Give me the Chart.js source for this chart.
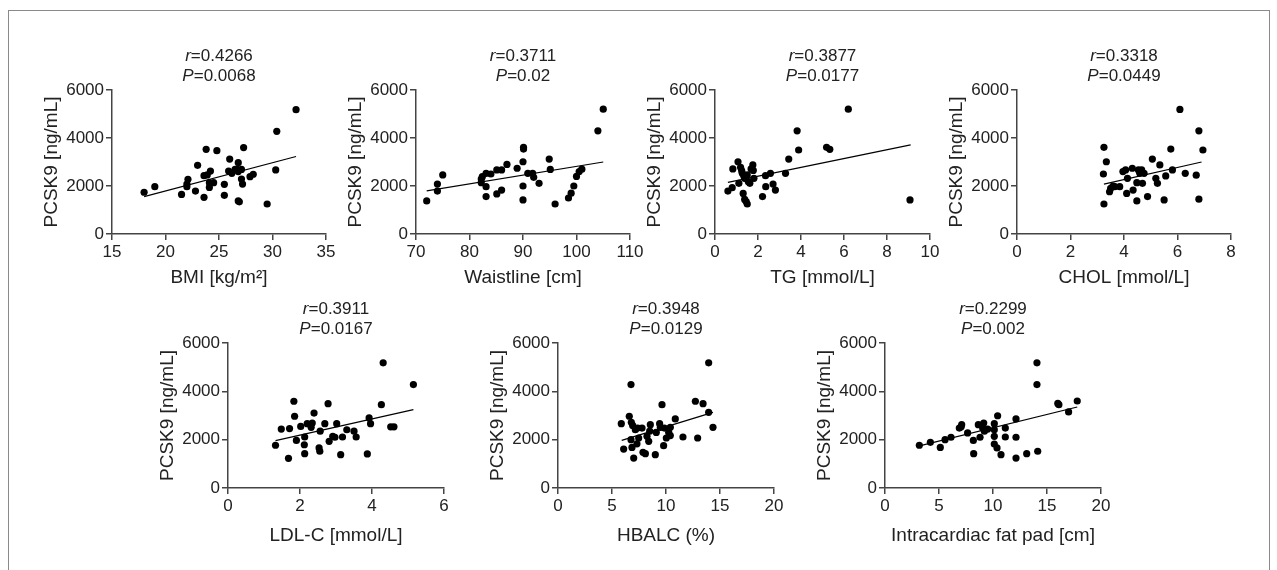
<!DOCTYPE html>
<html>
<head>
<meta charset="utf-8">
<title>PCSK9 correlations</title>
<script src="https://cdn.jsdelivr.net/npm/chart.js@4/dist/chart.umd.min.js"></script>
<style>
    body {
        margin: 0;
        background: #fff;
        font-family: "Liberation Sans", Arial, sans-serif;
    }
    #figure {
        position: relative;
        width: 1277px;
        height: 570px;
        overflow: hidden;
    }
    #frame {
        position: absolute;
        left: 8px;
        top: 10px;
        width: 1260px;
        height: 580px;
        border: 1px solid #8a8a8a;
    }
    #figure canvas {
        position: absolute;
    }
</style>
</head>
<body>
<div id="figure"><div id="frame"></div></div>
<script>
// data: [x, PCSK9 ng/mL]
const bmiPoints = [
    [18.0, 1740], [19.0, 1970], [21.5, 1650], [22.1, 2280], [22.0, 1970], [22.0, 2080],
    [22.8, 1790], [23.0, 2860], [23.6, 1530], [23.8, 3530], [23.6, 2430], [23.9, 2460],
    [24.2, 2620], [24.1, 1940], [24.1, 2140], [24.5, 2140], [24.8, 3470], [25.5, 1610],
    [25.5, 2070], [26.0, 3120], [25.9, 2620], [26.2, 2530], [26.5, 2690], [26.8, 2970],
    [26.7, 2690], [27.1, 2690], [26.8, 2600], [27.1, 2290], [27.2, 2080], [27.3, 3600],
    [26.8, 1380], [26.9, 1340], [27.9, 2390], [28.2, 2490], [29.5, 1250], [30.3, 2670],
    [30.4, 4280], [32.2, 5180]
];
const bmiFit = [[18.0, 1560], [32.2, 3230]];

const waistPoints = [
    [72, 1380], [74, 2080], [74, 1790], [75, 2460], [82.2, 2290], [82.4, 2390],
    [82.2, 2140], [83.1, 1970], [83.1, 1560], [83.1, 2530], [84, 2500], [85.1, 2670],
    [85.1, 1670], [86, 2670], [86, 1830], [87, 2900], [88.9, 2740], [90, 3010],
    [90.1, 3540], [90.1, 3610], [90, 2000], [90, 1420], [90.9, 2530], [91.8, 2530],
    [92, 2360], [93, 2110], [94.9, 3120], [95.1, 2690], [96, 1250], [98.5, 1500],
    [99, 1700], [99.5, 2000], [100, 2400], [100.5, 2600], [101, 2700], [104, 4300],
    [105, 5200]
];
const waistFit = [[72, 1800], [105, 3000]];

const tgPoints = [
    [0.60, 1790], [0.80, 1930], [0.83, 2710], [1.07, 3010], [1.11, 2110], [1.19, 2780],
    [1.24, 2640], [1.27, 2530], [1.34, 2420], [1.31, 1690], [1.38, 1440], [1.45, 1350],
    [1.50, 1250], [1.38, 2320], [1.50, 2460], [1.55, 2180], [1.62, 2110], [1.68, 2710],
    [1.76, 2880], [1.78, 2650], [1.81, 2320], [2.21, 1560], [2.35, 2430], [2.36, 1970],
    [2.58, 2530], [2.70, 2080], [2.81, 1830], [3.28, 2530], [3.43, 3120], [3.82, 4300],
    [3.89, 3500], [5.19, 3610], [5.34, 3530], [6.2, 5200], [9.07, 1420]
];
const tgFit = [[0.6, 2150], [9.1, 3710]];

const cholPoints = [
    [3.25, 3610], [3.34, 3010], [3.23, 2500], [3.25, 1250], [3.46, 1760], [3.50, 1900],
    [3.59, 2000], [3.66, 1970], [3.84, 1970], [3.96, 2600], [4.06, 2670], [4.13, 2320],
    [4.10, 1690], [4.31, 2740], [4.34, 1830], [4.48, 2140], [4.48, 1380], [4.54, 2670],
    [4.59, 2530], [4.66, 2670], [4.69, 2110], [4.75, 2530], [4.88, 1560], [5.06, 3120],
    [5.19, 2320], [5.25, 2110], [5.34, 2880], [5.50, 1420], [5.56, 2420], [5.75, 3540],
    [5.81, 2670], [6.09, 5190], [6.29, 2530], [6.7, 2450], [6.8, 4300], [6.95, 3500],
    [6.8, 1450]
];
const cholFit = [[3.25, 2080], [6.9, 3000]];

const ldlPoints = [
    [1.32, 1770], [1.48, 2440], [1.68, 1230], [1.71, 2460], [1.83, 3590], [1.85, 2970],
    [1.90, 1970], [2.02, 2550], [2.13, 2110], [2.12, 1790], [2.13, 1420], [2.20, 2660],
    [2.31, 2510], [2.34, 2690], [2.39, 3100], [2.53, 1660], [2.55, 1520], [2.56, 2350],
    [2.69, 2660], [2.78, 3490], [2.81, 1930], [2.91, 2140], [2.97, 2100], [3.02, 2660],
    [3.13, 1380], [3.18, 2110], [3.30, 2410], [3.50, 2350], [3.56, 2110], [3.87, 1410],
    [3.92, 2900], [3.96, 2660], [4.26, 3450], [4.31, 5180], [4.52, 2530], [4.61, 2530],
    [5.15, 4280]
];
const ldlFit = [[1.32, 1960], [5.15, 3240]];

const hbalcPoints = [
    [5.86, 2660], [6.08, 1610], [6.60, 2970], [6.76, 4280], [6.79, 2720], [6.91, 2590],
    [6.76, 2000], [6.85, 1680], [7.01, 1240], [7.16, 2410], [7.38, 2480], [7.31, 1830],
    [7.47, 2070], [7.78, 2480], [7.87, 1480], [8.09, 1420], [8.24, 2140], [8.40, 1930],
    [8.49, 2350], [8.55, 2620], [9.01, 1380], [9.10, 2300], [9.41, 2660], [9.48, 2510],
    [9.63, 3450], [9.78, 1750], [9.85, 2480], [10.03, 2070], [10.25, 2300], [10.40, 2170],
    [10.40, 2510], [10.86, 2860], [11.57, 2110], [12.72, 3590], [12.93, 2070], [13.43, 3490],
    [13.95, 5180], [13.95, 3130], [14.35, 2510]
];
const hbalcFit = [[5.9, 1970], [14.35, 3130]];

const fatPadPoints = [
    [3.18, 1770], [4.20, 1890], [5.12, 1680], [5.56, 2000], [6.11, 2100], [6.88, 2480],
    [7.10, 2620], [7.05, 2530], [7.65, 2280], [8.18, 1970], [8.21, 1420], [8.64, 2620],
    [8.80, 2100], [9.04, 2480], [9.14, 2690], [9.20, 2350], [9.51, 2440], [10.12, 2660],
    [10.12, 2410], [10.12, 2140], [10.12, 1820], [10.43, 2990], [10.37, 1660], [10.74, 1380],
    [11.14, 2480], [11.14, 2110], [12.13, 2860], [12.13, 2100], [12.13, 1240], [13.12, 1420],
    [14.07, 5180], [14.07, 4280], [14.14, 1520], [16.0, 3500], [16.1, 3450], [17.0, 3150],
    [17.8, 3600]
];
const fatPadFit = [[3.0, 1720], [17.8, 3350]];

const yTicks = [0, 2000, 4000, 6000];
const yTitle = 'PCSK9 [ng/mL]';

const panels = [
    { points: bmiPoints, fit: bmiFit, xMin: 15, xMax: 35, step: 5, xTitle: 'BMI [kg/m²]', r: '0.4266', p: '0.0068', axisX: 112, top: 90, w: 214, h: 144, xBox: 55 },
    { points: waistPoints, fit: waistFit, xMin: 70, xMax: 110, step: 10, xTitle: 'Waistline [cm]', r: '0.3711', p: '0.02', axisX: 416, top: 90, w: 214, h: 144, xBox: 55 },
    { points: tgPoints, fit: tgFit, xMin: 0, xMax: 10, step: 2, xTitle: 'TG [mmol/L]', r: '0.3877', p: '0.0177', axisX: 715, top: 90, w: 215, h: 144, xBox: 55 },
    { points: cholPoints, fit: cholFit, xMin: 0, xMax: 8, step: 2, xTitle: 'CHOL [mmol/L]', r: '0.3318', p: '0.0449', axisX: 1017, top: 90, w: 214, h: 144, xBox: 55 },
    { points: ldlPoints, fit: ldlFit, xMin: 0, xMax: 6, step: 2, xTitle: 'LDL-C [mmol/L]', r: '0.3911', p: '0.0167', axisX: 228, top: 343, w: 216, h: 145, xBox: 59 },
    { points: hbalcPoints, fit: hbalcFit, xMin: 0, xMax: 20, step: 5, xTitle: 'HBALC (%)', r: '0.3948', p: '0.0129', axisX: 558, top: 343, w: 216, h: 145, xBox: 59 },
    { points: fatPadPoints, fit: fatPadFit, xMin: 0, xMax: 20, step: 5, xTitle: 'Intracardiac fat pad [cm]', r: '0.2299', p: '0.002', axisX: 885, top: 343, w: 216, h: 145, xBox: 59 }
];

const FONT = '"Liberation Sans", Arial, sans-serif';
const INK = '#222';
const AXIS = '#444';
const Y_BOX = 72;
const PAD_TOP = 50;
const PAD_RIGHT = 20;

Chart.defaults.font.family = FONT;

function drawStat(ctx, sym, rest, cx, y) {
    ctx.save();
    ctx.fillStyle = INK;
    ctx.textBaseline = 'middle';
    ctx.textAlign = 'left';
    ctx.font = 'italic 17px ' + FONT;
    const w1 = ctx.measureText(sym).width;
    ctx.font = '17px ' + FONT;
    const w2 = ctx.measureText(rest).width;
    const x = cx - (w1 + w2) / 2;
    ctx.font = 'italic 17px ' + FONT;
    ctx.fillText(sym, x, y);
    ctx.font = '17px ' + FONT;
    ctx.fillText(rest, x + w1, y);
    ctx.restore();
}

const statsLabel = {
    id: 'statsLabel',
    afterDraw(chart, args, opts) {
        const area = chart.chartArea;
        const cx = (area.left + area.right) / 2;
        drawStat(chart.ctx, 'r', '=' + opts.r, cx, area.top - 34);
        drawStat(chart.ctx, 'P', '=' + opts.p, cx, area.top - 14);
    }
};

function makePanel(cfg) {
    const canvas = document.createElement('canvas');
    canvas.width = Y_BOX + cfg.w + PAD_RIGHT;
    canvas.height = PAD_TOP + cfg.h + cfg.xBox;
    canvas.style.left = (cfg.axisX - Y_BOX) + 'px';
    canvas.style.top = (cfg.top - PAD_TOP) + 'px';
    document.getElementById('figure').appendChild(canvas);

    new Chart(canvas, {
        type: 'scatter',
        data: {
            datasets: [{
                data: cfg.points.map(pt => ({ x: pt[0], y: pt[1] })),
                backgroundColor: '#000',
                borderWidth: 0,
                pointRadius: 3.6
            }, {
                data: cfg.fit.map(pt => ({ x: pt[0], y: pt[1] })),
                showLine: true,
                borderColor: '#000',
                borderWidth: 1.2,
                pointRadius: 0
            }]
        },
        options: {
            responsive: false,
            animation: false,
            layout: { padding: { top: PAD_TOP, right: PAD_RIGHT, left: 0, bottom: 0 } },
            plugins: {
                legend: { display: false },
                tooltip: { enabled: false },
                statsLabel: { r: cfg.r, p: cfg.p }
            },
            scales: {
                x: {
                    type: 'linear',
                    min: cfg.xMin,
                    max: cfg.xMax,
                    ticks: {
                        stepSize: cfg.step,
                        padding: 2,
                        color: INK,
                        font: { size: 17 },
                        maxRotation: 0,
                        autoSkip: false,
                        callback: v => String(v)
                    },
                    grid: { drawOnChartArea: false, tickLength: 6, color: AXIS, lineWidth: 1.5 },
                    border: { color: AXIS, width: 1.5 },
                    title: { display: true, text: cfg.xTitle, color: INK, font: { size: 19 }, padding: 0 },
                    afterFit: scale => { scale.height = cfg.xBox; }
                },
                y: {
                    type: 'linear',
                    min: yTicks[0],
                    max: yTicks[yTicks.length - 1],
                    afterBuildTicks: scale => { scale.ticks = yTicks.map(v => ({ value: v })); },
                    ticks: {
                        padding: 2,
                        color: INK,
                        font: { size: 17 },
                        callback: v => String(v)
                    },
                    grid: { drawOnChartArea: false, tickLength: 6, color: AXIS, lineWidth: 1.5 },
                    border: { color: AXIS, width: 1.5 },
                    title: { display: true, text: yTitle, color: INK, font: { size: 19 }, padding: 0 },
                    afterFit: scale => { scale.width = Y_BOX; }
                }
            }
        },
        plugins: [statsLabel]
    });
}

panels.forEach(makePanel);
</script>
</body>
</html>
